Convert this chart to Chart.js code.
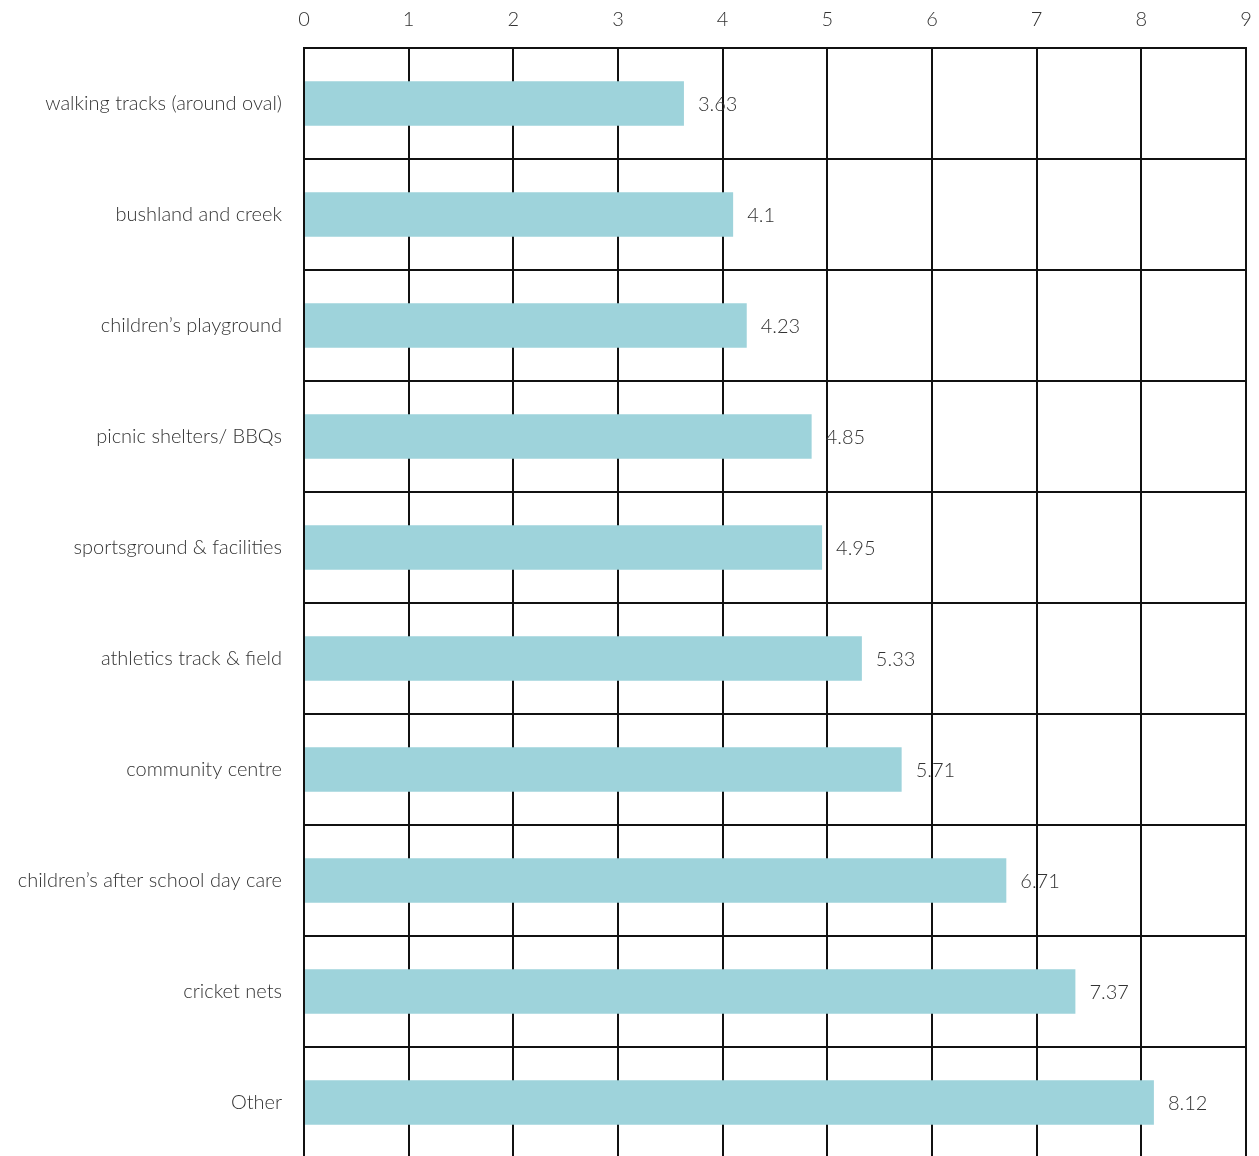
<!DOCTYPE html>
<html>
<head>
<meta charset="utf-8">
<script src="https://cdn.jsdelivr.net/npm/chart.js@4"></script>
<style>
html,body{margin:0;padding:0;background:#fff;overflow:hidden;}
#wrap{width:1259px;height:1160px;}
</style>
</head>
<body>
<div id="wrap"><canvas id="c" width="1259" height="1160"></canvas></div>
<script>
const categories = [
  "walking tracks (around oval)",
  "bushland and creek",
  "children\u2019s playground",
  "picnic shelters/ BBQs",
  "sportsground & facilities",
  "athletics track & field",
  "community centre",
  "children\u2019s after school day care",
  "cricket nets",
  "Other"
];
const values = [3.63, 4.1, 4.23, 4.85, 4.95, 5.33, 5.71, 6.71, 7.37, 8.12];
const valueLabels = ["3.63", "4.1", "4.23", "4.85", "4.95", "5.33", "5.71", "6.71", "7.37", "8.12"];
const xMin = 0, xMax = 9, xStep = 1;

const FONT = "Lato, 'Open Sans', sans-serif";
const TEXT = "#333333";

const valueLabelPlugin = {
  id: 'valueLabels',
  afterDatasetsDraw(chart) {
    const ctx = chart.ctx;
    const meta = chart.getDatasetMeta(0);
    ctx.save();
    ctx.font = "300 20px " + FONT;
    ctx.fillStyle = TEXT;
    ctx.textAlign = 'left';
    ctx.textBaseline = 'middle';
    meta.data.forEach((bar, i) => {
      ctx.fillText(valueLabels[i], bar.x + 14, bar.y + 1);
    });
    ctx.restore();
  }
};

new Chart(document.getElementById('c'), {
  type: 'bar',
  data: {
    labels: categories,
    datasets: [{
      data: values,
      backgroundColor: '#9ed3db',
      borderWidth: 0,
      barPercentage: 0.4,
      categoryPercentage: 1.0
    }]
  },
  options: {
    indexAxis: 'y',
    responsive: false,
    animation: false,
    layout: { padding: { top: 0, right: 13, bottom: 2, left: 0 } },
    plugins: { legend: { display: false }, tooltip: { enabled: false } },
    scales: {
      x: {
        position: 'top',
        min: xMin, max: xMax,
        ticks: { stepSize: xStep, color: TEXT, font: { family: FONT, size: 20, weight: 300 }, padding: 16 },
        grid: { color: '#111', lineWidth: 2, drawTicks: false },
        border: { color: '#111', width: 2 },
        afterFit(scale) { scale.height = 48; scale.paddingLeft = 0; scale.paddingRight = 0; }
      },
      y: {
        ticks: { color: TEXT, font: { family: FONT, size: 20, weight: 300 }, padding: 22 },
        grid: { color: '#111', lineWidth: 2, drawTicks: false },
        border: { color: '#111', width: 2 },
        afterFit(scale) { scale.width = 304; scale.paddingTop = 0; scale.paddingBottom = 0; }
      }
    }
  },
  plugins: [valueLabelPlugin]
});
</script>
</body>
</html>
